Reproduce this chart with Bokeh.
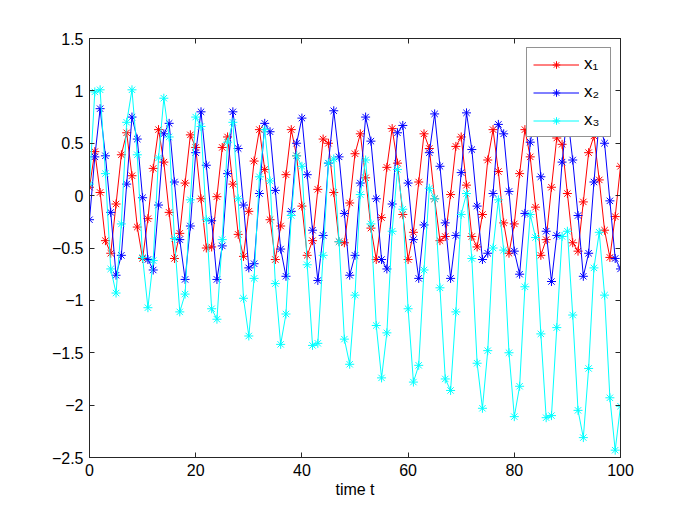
import numpy as np
from bokeh.plotting import figure
from bokeh.models import LinearAxis, FixedTicker, CustomJSTickFormatter, Range1d
from bokeh.embed import file_html
from bokeh.resources import INLINE

t = list(range(0, 101))

x1 = [0.08, 0.42, 0.03, -0.43, -0.55, -0.08, 0.39, 0.60, 0.19, -0.30,
      -0.60, -0.22, 0.26, 0.63, 0.32, -0.16, -0.60, -0.36, 0.12, 0.58,
      0.46, -0.03, -0.50, -0.49, -0.01, 0.46, 0.56, 0.11, -0.37, -0.58,
      -0.15, 0.33, 0.63, 0.25, -0.23, -0.61, -0.29, 0.20, 0.63, 0.38,
      -0.10, -0.57, -0.43, 0.06, 0.54, 0.50, 0.03, -0.44, -0.45, -0.07,
      0.40, 0.59, 0.17, -0.31, -0.61, -0.21, 0.27, 0.64, 0.31, -0.18,
      -0.61, -0.35, 0.13, 0.59, 0.45, -0.03, -0.43, -0.39, 0.01, 0.47,
      0.56, 0.10, -0.39, -0.49, -0.18, 0.34, 0.63, 0.23, -0.26, -0.55,
      -0.27, 0.21, 0.63, 0.37, -0.11, -0.57, -0.42, 0.08, 0.55, 0.49,
      0.02, -0.45, -0.53, -0.06, 0.41, 0.57, 0.15, -0.33, -0.59, -0.20,
      0.28]

x2 = [-0.23, 0.37, 0.83, 0.38, -0.16, -0.76, -0.57, 0.11, 0.75, 0.54,
      -0.02, -0.61, -0.71, -0.09, 0.59, 0.69, 0.13, -0.42, -0.80, -0.29,
      0.41, 0.80, 0.29, -0.24, -0.80, -0.48, 0.21, 0.80, 0.45, -0.09,
      -0.69, -0.65, 0.02, 0.69, 0.61, 0.05, -0.51, -0.77, -0.15, 0.50,
      0.74, 0.20, -0.33, -0.81, -0.38, 0.31, 0.81, 0.37, -0.17, -0.76,
      -0.57, 0.12, 0.75, 0.52, -0.03, -0.61, -0.70, -0.08, 0.60, 0.67,
      0.12, -0.42, -0.79, -0.28, 0.41, 0.78, 0.28, -0.26, -0.79, -0.38,
      0.22, 0.79, 0.44, -0.10, -0.61, -0.55, 0.02, 0.68, 0.59, 0.04,
      -0.53, -0.75, -0.17, 0.51, 0.75, 0.18, -0.34, -0.82, -0.38, 0.32,
      0.78, 0.34, -0.19, -0.77, -0.55, 0.13, 0.72, 0.50, -0.05, -0.60,
      -0.70]

x3 = [0.11, 0.99, 1.01, 0.21, -0.70, -0.93, -0.27, 0.70, 1.01, 0.39,
      -0.59, -1.07, -0.62, 0.36, 0.93, 0.56, -0.41, -1.11, -0.94, -0.04,
      0.75, 0.66, -0.23, -1.08, -1.18, -0.42, 0.51, 0.70, -0.03, -0.98,
      -1.34, -0.79, 0.18, 0.63, 0.14, -0.84, -1.42, -1.13, -0.19, 0.38,
      0.28, -0.66, -1.43, -1.41, -0.57, 0.31, 0.35, -0.44, -1.37, -1.61,
      -0.95, 0.01, 0.34, -0.27, -1.24, -1.74, -1.31, -0.34, 0.25, -0.13,
      -1.08, -1.78, -1.62, -0.71, 0.07, -0.03, -0.88, -1.75, -1.86, -1.11,
      -0.18, 0.02, -0.60, -1.60, -2.03, -1.48, -0.50, -0.04, -0.52, -1.50,
      -2.11, -1.82, -0.87, -0.18, -0.40, -1.32, -2.12, -2.10, -1.26, -0.39,
      -0.34, -1.14, -2.05, -2.31, -1.65, -0.69, -0.35, -0.95, -1.93, -2.43,
      -2.01]

series_names = ["x\u2081", "x\u2082", "x\u2083"]
series_colors = ["#ff0000", "#0000ff", "#00ffff"]
x_ticks = [0, 20, 40, 60, 80, 100]
y_ticks = [-2.5, -2, -1.5, -1, -0.5, 0, 0.5, 1, 1.5]

FONT = "Liberation Sans"
AX = "#262626"

p = figure(frame_width=531, frame_height=419, output_backend="svg",
           toolbar_location=None,
           x_range=Range1d(0, 100), y_range=Range1d(-2.5, 1.5),
           min_border_left=89, min_border_right=49, min_border_top=38,
           min_border_bottom=42)
p.background_fill_color = "white"
p.border_fill_color = "white"
p.xgrid.visible = False
p.ygrid.visible = False
p.outline_line_color = AX
p.outline_line_width = 1

for ys, name, col in zip([x1, x2, x3], series_names, series_colors):
    p.line(t, ys, line_color=col, line_width=1, legend_label=name)
    p.scatter(t, ys, marker="asterisk", size=9, line_color=col, line_width=1,
              legend_label=name)

fmt = CustomJSTickFormatter(code="return String(tick).replace('-', '\\u2212')")

def style_axis(ax, show_labels=True):
    ax.axis_line_color = AX
    ax.major_tick_line_color = AX
    ax.major_tick_in = 5
    ax.major_tick_out = 0
    ax.minor_tick_line_color = None
    ax.major_label_text_font = FONT
    ax.major_label_text_font_size = "16px"
    ax.major_label_text_color = "black"
    ax.major_label_standoff = 6
    if not show_labels:
        ax.major_label_text_font_size = "0px"
        ax.major_label_text_alpha = 0
        ax.major_label_standoff = 0

p.xaxis.ticker = FixedTicker(ticks=x_ticks)
p.yaxis.ticker = FixedTicker(ticks=y_ticks)
p.yaxis.formatter = fmt
style_axis(p.xaxis[0])
style_axis(p.yaxis[0])
p.xaxis.axis_label = "time t"
p.xaxis.axis_label_text_font = FONT
p.xaxis.axis_label_text_font_size = "16px"
p.xaxis.axis_label_text_font_style = "normal"
p.xaxis.axis_label_text_color = "black"
p.xaxis.axis_label_standoff = 2

top_ax = LinearAxis(ticker=FixedTicker(ticks=x_ticks))
right_ax = LinearAxis(ticker=FixedTicker(ticks=y_ticks))
style_axis(top_ax, False)
style_axis(right_ax, False)
p.add_layout(top_ax, "above")
p.add_layout(right_ax, "right")

lg = p.legend[0]
lg.location = "top_right"
lg.margin = 9
lg.padding = 6
lg.spacing = 8
lg.glyph_width = 46
lg.glyph_height = 19
lg.label_height = 19
lg.label_standoff = 5
lg.label_text_font = FONT
lg.label_text_font_size = "17px"
lg.label_text_color = "black"
lg.border_line_color = AX
lg.border_line_width = 1
lg.background_fill_color = "white"
lg.background_fill_alpha = 1.0

open("out.html", "w").write(file_html(p, INLINE))
